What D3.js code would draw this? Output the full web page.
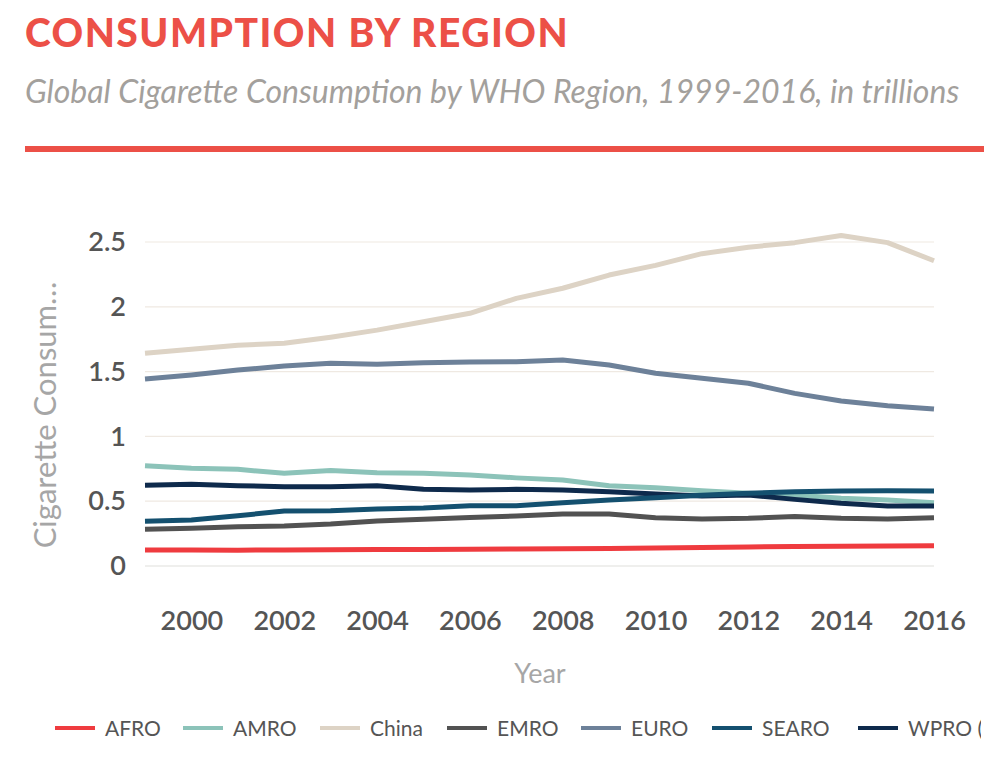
<!DOCTYPE html>
<html>
<head>
<meta charset="utf-8">
<script src="https://cdn.jsdelivr.net/npm/d3@7"></script>
<style>
  html, body { margin: 0; padding: 0; background: #fff; }
  svg { display: block; }
</style>
</head>
<body>
<svg id="chart" width="1004" height="766"></svg>
<script>
const years = [1999,2000,2001,2002,2003,2004,2005,2006,2007,2008,2009,2010,2011,2012,2013,2014,2015,2016];
const seriesNames = ["AFRO","AMRO","China","EMRO","EURO","SEARO","WPRO (excluding China)"];
const seriesColors = ["#ef3b3f","#8cc3b9","#ddd3c5","#525252","#6d8199","#14506f","#0e2a4c"];
const afro  = [0.124,0.124,0.122,0.124,0.126,0.127,0.128,0.129,0.131,0.133,0.135,0.138,0.142,0.147,0.150,0.152,0.155,0.157];
const amro  = [0.774,0.754,0.746,0.715,0.736,0.720,0.715,0.702,0.680,0.664,0.620,0.604,0.581,0.561,0.548,0.522,0.509,0.488];
const china = [1.641,1.672,1.703,1.718,1.765,1.820,1.885,1.950,2.065,2.143,2.245,2.320,2.410,2.460,2.495,2.550,2.495,2.355];
const emro  = [0.283,0.291,0.303,0.309,0.324,0.347,0.360,0.375,0.386,0.401,0.401,0.373,0.363,0.368,0.381,0.368,0.363,0.373];
const euro  = [1.443,1.474,1.512,1.543,1.564,1.556,1.569,1.574,1.576,1.589,1.551,1.487,1.448,1.410,1.332,1.273,1.237,1.211];
const searo = [0.345,0.355,0.388,0.424,0.427,0.440,0.448,0.465,0.465,0.488,0.509,0.527,0.545,0.561,0.573,0.579,0.581,0.579];
const wpro  = [0.623,0.630,0.620,0.612,0.612,0.620,0.592,0.586,0.592,0.586,0.573,0.556,0.540,0.548,0.514,0.484,0.463,0.463];
const seriesValues = [afro, amro, china, emro, euro, searo, wpro];
const xTicks = [2000,2002,2004,2006,2008,2010,2012,2014,2016];
const yTicks = [0,0.5,1,1.5,2,2.5];
const yTickLabels = ["0","0.5","1","1.5","2","2.5"];
const titleText = "CONSUMPTION BY REGION";
const subtitleText = "Global Cigarette Consumption by WHO Region, 1999-2016, in trillions";
const yAxisLabel = "Cigarette Consum\u2026";
const xAxisLabel = "Year";

const svg = d3.select("#chart");
const x = d3.scaleLinear().domain([1999, 2016]).range([145, 934]);
const y = d3.scaleLinear().domain([0, 2.5]).range([566, 242]);

// Header
svg.append("text").attr("x", 25).attr("y", 47)
  .attr("font-family", "Lato").attr("font-weight", 900).attr("font-size", 39)
  .attr("letter-spacing", 1.5).attr("fill", "#ec5047").text(titleText);
svg.append("text").attr("x", 25).attr("y", 103)
  .attr("font-family", "Lato").attr("font-style", "italic").attr("font-size", 32)
  .attr("fill", "#a3a09c").text(subtitleText);
svg.append("rect").attr("x", 25).attr("y", 146).attr("width", 959).attr("height", 6).attr("fill", "#ec5047");

// Grid
const yAxis = d3.axisLeft(y).tickValues(yTicks).tickSize(0).tickPadding(0)
  .tickFormat((d, i) => yTickLabels[i]);
const gy = svg.append("g").attr("transform", "translate(126,0)").call(yAxis);
gy.select(".domain").remove();
gy.selectAll("text").attr("font-family", "Lato").attr("font-weight", 600).attr("font-size", 27).attr("fill", "#555");

svg.append("g").selectAll("line").data(yTicks).join("line")
  .attr("x1", 145).attr("x2", 934)
  .attr("y1", d => y(d)).attr("y2", d => y(d))
  .attr("stroke", d => d === 0 ? "#efefed" : "#efe9e2")
  .attr("stroke-width", d => d === 0 ? 2 : 1.2);

const xAxis = d3.axisBottom(x).tickValues(xTicks).tickSize(0).tickPadding(0).tickFormat(d3.format("d"));
const gx = svg.append("g").attr("transform", "translate(0,630)").call(xAxis);
gx.select(".domain").remove();
gx.selectAll("text").attr("dy", 0).attr("font-family", "Lato").attr("font-weight", 600).attr("font-size", 27).attr("fill", "#555");

// Axis labels
svg.append("text").attr("transform", "translate(56,415) rotate(-90)").attr("text-anchor", "middle")
  .attr("font-family", "Lato").attr("font-size", 31).attr("fill", "#a6a6a6").text(yAxisLabel);
svg.append("text").attr("x", 540).attr("y", 683).attr("text-anchor", "middle")
  .attr("font-family", "Lato").attr("font-size", 27).attr("fill", "#a6a6a6").text(xAxisLabel);

// Lines
const line = d3.line().x((d, i) => x(years[i])).y(d => y(d));
const drawOrder = [2, 4, 1, 3, 6, 5, 0];
svg.append("g").selectAll("path").data(drawOrder).join("path")
  .attr("d", k => line(seriesValues[k]))
  .attr("fill", "none").attr("stroke", k => seriesColors[k])
  .attr("stroke-width", 5).attr("stroke-linejoin", "round");

// Legend (clipped at the right edge as in the reference)
svg.append("clipPath").attr("id", "legclip").append("rect").attr("x", 0).attr("y", 690).attr("width", 981).attr("height", 76);
const legX = [55, 183, 320, 447, 581, 712, 858];
const leg = svg.append("g").attr("clip-path", "url(#legclip)");
const items = leg.selectAll("g").data(seriesNames).join("g")
  .attr("transform", (d, i) => `translate(${legX[i]},728)`);
items.append("line").attr("x1", 0).attr("x2", 40).attr("y1", 0).attr("y2", 0)
  .attr("stroke", (d, i) => seriesColors[i]).attr("stroke-width", 4);
items.append("text").attr("x", 50).attr("y", 7.5)
  .attr("font-family", "Lato").attr("font-size", 21).attr("fill", "#555").text(d => d);
</script>
</body>
</html>
